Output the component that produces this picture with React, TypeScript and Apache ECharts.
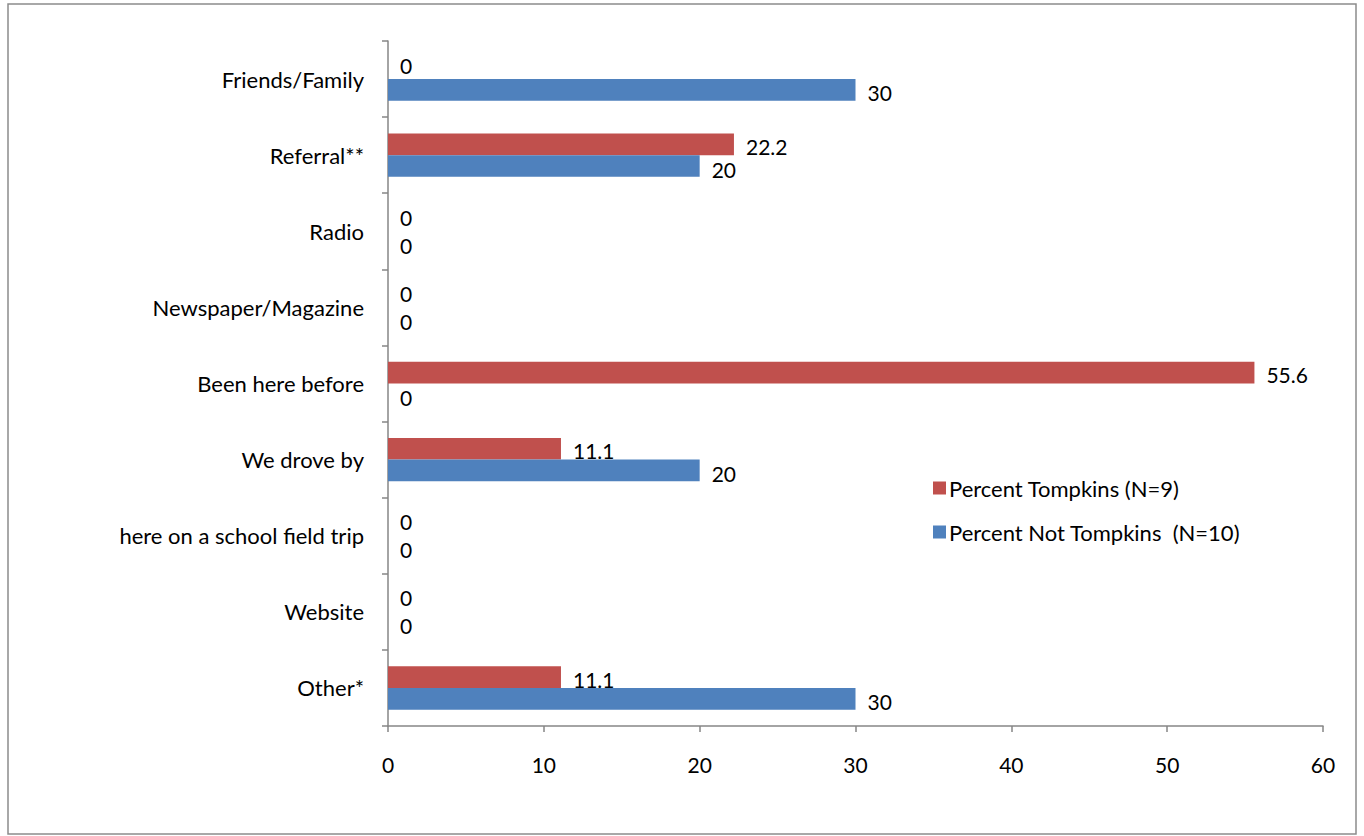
import React, { useEffect, useRef } from "react";
import * as echarts from "echarts";

const categories = [
  "Friends/Family",
  "Referral**",
  "Radio",
  "Newspaper/Magazine",
  "Been here before",
  "We drove by",
  "here on a school field trip",
  "Website",
  "Other*",
];
const tompkins = [0, 22.2, 0, 0, 55.6, 11.1, 0, 0, 11.1];
const notTompkins = [30, 20, 0, 0, 0, 20, 0, 0, 30];
const seriesNames = ["Percent Tompkins (N=9)", "Percent Not Tompkins  (N=10)"];
const xTicks = { min: 0, max: 60, interval: 10 };

const FONT = "Lato";
const FS_TEXT = 22;
const FS_NUM = 21;

export default function App() {
  const ref = useRef<HTMLDivElement>(null);
  useEffect(() => {
    if (!ref.current) return;
    const chart = echarts.init(ref.current, null, { renderer: "svg" });
    const labelStyle = {
      show: true,
      position: "right" as const,
      distance: 12,
      fontFamily: FONT,
      fontSize: FS_NUM,
      color: "#000",
    };
    const toItems = (vals: number[], zeroDy: number, dy: number) =>
      vals.map((v) => ({ value: v, label: { offset: [0, v === 0 ? zeroDy : dy] } }));
    chart.setOption({
      animation: false,
      backgroundColor: "#fff",
      textStyle: { fontFamily: FONT },
      graphic: [
        {
          type: "rect",
          shape: { x: 8, y: 4, width: 1348, height: 830 },
          style: { fill: "none", stroke: "#8c8c8c", lineWidth: 1.5 },
          silent: true,
        },
      ],
      grid: { left: 388, right: 41, top: 41, bottom: 110, containLabel: false },
      legend: {
        orient: "vertical",
        left: 928,
        top: 472,
        itemWidth: 13,
        itemHeight: 13,
        itemGap: 22,
        icon: "rect",
        textStyle: { fontFamily: FONT, fontSize: FS_TEXT, color: "#000", padding: [0, 0, 0, -2] },
        data: seriesNames,
      },
      xAxis: {
        type: "value",
        min: xTicks.min,
        max: xTicks.max,
        interval: xTicks.interval,
        splitLine: { show: false },
        axisLine: { show: true, lineStyle: { color: "#868686", width: 1.5 } },
        axisTick: { show: true, length: 6, lineStyle: { color: "#868686", width: 1.5 } },
        axisLabel: { fontFamily: FONT, fontSize: FS_NUM, color: "#000", margin: 28 },
      },
      yAxis: {
        type: "category",
        inverse: true,
        data: categories,
        axisLine: { show: true, lineStyle: { color: "#868686", width: 1.5 } },
        axisTick: { show: true, length: 6, lineStyle: { color: "#868686", width: 1.5 } },
        axisLabel: { fontFamily: FONT, fontSize: FS_TEXT, color: "#000", margin: 24 },
      },
      series: [
        {
          name: seriesNames[0],
          type: "bar",
          data: toItems(tompkins, -3, 2),
          barGap: "0%",
          barCategoryGap: "43%",
          itemStyle: { color: "#C0504D" },
          label: labelStyle,
        },
        {
          name: seriesNames[1],
          type: "bar",
          data: toItems(notTompkins, 3, 3),
          barGap: "0%",
          barCategoryGap: "43%",
          itemStyle: { color: "#4F81BD" },
          label: labelStyle,
        },
      ],
    });
    return () => chart.dispose();
  }, []);
  return (
    <div
      ref={ref}
      style={{ position: "absolute", left: 0, top: 0, width: 1364, height: 836 }}
    />
  );
}
